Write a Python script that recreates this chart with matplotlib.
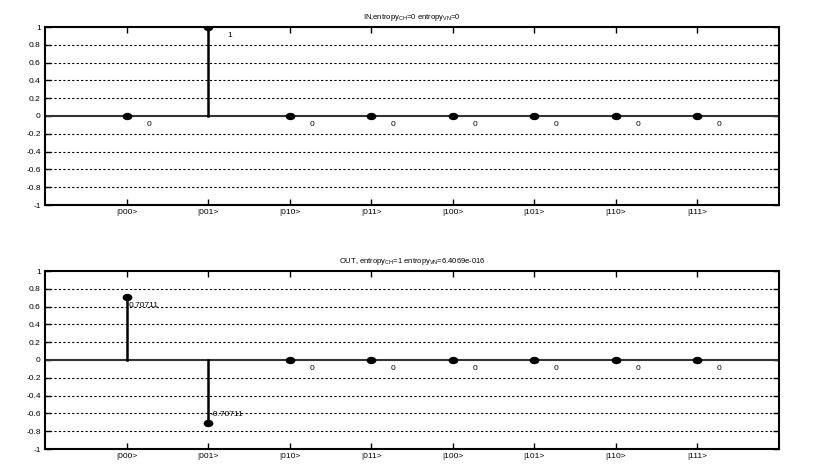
import matplotlib.pyplot as plt
from matplotlib.path import Path
from matplotlib.transforms import Affine2D
import numpy as np

states = ['|000>', '|001>', '|010>', '|011>', '|100>', '|101>', '|110>', '|111>']
amp_in = [0, 1, 0, 0, 0, 0, 0, 0]
amp_out = [0.70711, -0.70711, 0, 0, 0, 0, 0, 0]
label_in = ['0', '1', '0', '0', '0', '0', '0', '0']
label_out = ['0.70711', '-0.70711', '0', '0', '0', '0', '0', '0']
title_in = r'IN,entropy$_{\rm CH}$=0 entropy$_{\rm VN}$=0'
title_out = r'OUT, entropy$_{\rm CH}$=1 entropy$_{\rm VN}$=6.4069e-016'

plt.rcParams['font.family'] = ['Liberation Sans', 'DejaVu Sans']
plt.rcParams['mathtext.fontset'] = 'custom'
plt.rcParams['mathtext.rm'] = 'Liberation Sans'

# squashed dot, like the stretched original
dot = Path.unit_circle().transformed(Affine2D().scale(1.4, 1.0))

fig = plt.figure(figsize=(8.24, 4.67), dpi=100)
ax1 = fig.add_axes([45 / 824, 1 - 205 / 467, 734 / 824, 178 / 467])
ax2 = fig.add_axes([45 / 824, 1 - 449 / 467, 734 / 824, 178 / 467])


def draw(ax, vals, labels, title):
    x = np.arange(1, len(vals) + 1)
    yt = np.round(np.arange(-1, 1.01, 0.2), 1) + 0.0
    for g in yt:
        if abs(g) > 1e-9 and abs(abs(g) - 1) > 1e-9:
            ax.axhline(g, color='black', lw=0.8, ls=(0, (2, 2)), zorder=1)
    ax.axhline(0, color='#333333', lw=1.5, zorder=2)
    for xi, v in zip(x, vals):
        ax.plot([xi, xi], [0, v], color='black', lw=1.8, zorder=3)
    ax.plot(x, vals, ls='none', marker=dot, color='black', ms=6, zorder=4)
    for xi, v, s in zip(x, vals, labels):
        dy = 0.1 if v < 0 else -0.1
        if v == 0 or v == 1:
            ax.text(xi + 0.27, v + dy, s, ha='center', va='center', fontsize=6)
        else:
            ax.text(xi + 0.03, v + dy, s, ha='left', va='center', fontsize=6)
    ax.set_xlim(0, 9)
    ax.set_ylim(-1, 1)
    ax.set_xticks(x)
    ax.set_xticklabels(states, fontsize=6)
    ax.set_yticks(yt)
    ax.set_yticklabels(['%g' % t for t in yt], fontsize=6)
    ax.tick_params(direction='in', top=True, right=True, length=4, width=1, pad=3)
    for sp in ax.spines.values():
        sp.set_linewidth(1.5)
    ax.set_title(title, fontsize=5.5, pad=6)


draw(ax1, amp_in, label_in, title_in)
draw(ax2, amp_out, label_out, title_out)

fig.savefig('out.png', dpi=100)
